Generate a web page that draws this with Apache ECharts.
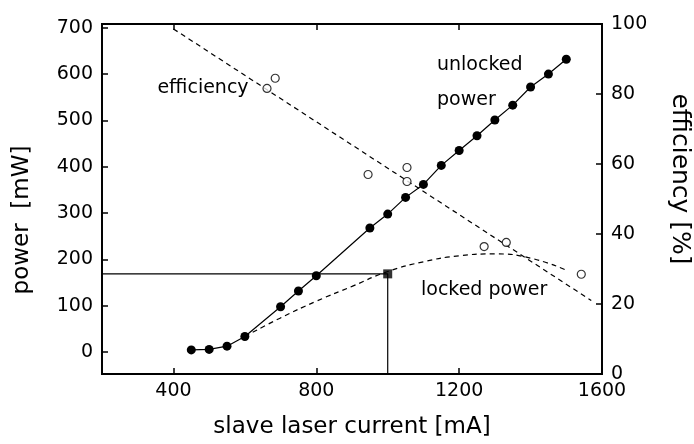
<!DOCTYPE html>
<html>
<head>
<meta charset="utf-8">
<script src="https://cdn.jsdelivr.net/npm/echarts@6/dist/echarts.min.js"></script>
<style>
    html, body { margin: 0; background: #fff; }
    #chart { width: 694px; height: 444px; }
</style>
</head>
<body>
<div id="chart"></div>
<script>
// unlocked power (filled circles)
const unlockedCurrent = [450, 500, 550, 600, 700, 750, 800, 950, 1000, 1050, 1100, 1150, 1200, 1250, 1300, 1350, 1400, 1450, 1500]
const unlockedPower = [5, 6, 13, 34, 98, 132, 165, 268, 298, 334, 362, 403, 435, 467, 501, 533, 572, 600, 632]

// efficiency (open circles) and its dashed fit
const effCurrent = [662, 685, 945, 1054, 1054, 1270, 1332, 1542]
const effValue = [81.6, 84.5, 57, 59, 55, 36.4, 37.6, 28.5]
const effFitCurrent = [400, 1570]
const effFitValue = [98.6, 21]

// locked power (dashed curve)
const lockedCurrent = [600, 700, 800, 900, 1000, 1100, 1200, 1300, 1400, 1500]
const lockedPower = [34, 74, 110, 142, 174, 195, 208, 212, 203, 177]

// locked operating point (square) with guide lines
const lockPointCurrent = 1000
const lockPointPower = 169

// axis ticks
const xTicks = [400, 800, 1200, 1600]
const xTopTicks = [400, 800, 1200]
const powerTicks = [0, 100, 200, 300, 400, 500, 600, 700]
const xMin = 200, xMax = 1600
const powerMin = -47, powerMax = 708

const font = 'DejaVu Sans'
const zip = (xs, ys) => xs.map((x, i) => [x, ys[i]])

const myChart = echarts.init(document.getElementById('chart'))

const axisLine = { show: true, onZero: false, lineStyle: { color: '#000', width: 1.8 } }
const tickStyle = { color: '#000', width: 1.5 }
const labelStyle = { color: '#000', fontSize: 19, fontFamily: font, formatter: (v) => String(v) }

const options = {
    animation: false,
    backgroundColor: '#fff',
    grid: { left: 102, right: 92, top: 24, bottom: 66, show: true, borderColor: '#000', borderWidth: 1.8 },
    xAxis: [
        {
            type: 'value', min: xMin, max: xMax, position: 'bottom',
            axisLine: axisLine,
            axisTick: { inside: true, length: 6, customValues: xTicks, lineStyle: tickStyle },
            axisLabel: Object.assign({ customValues: xTicks, margin: 8 }, labelStyle),
            splitLine: { show: false },
            name: 'slave laser current [mA]', nameLocation: 'middle', nameGap: 42,
            nameTextStyle: { color: '#000', fontSize: 23, fontFamily: font }
        },
        {
            type: 'value', min: xMin, max: xMax, position: 'top',
            axisLine: axisLine,
            axisTick: { inside: true, length: 6, customValues: xTopTicks, lineStyle: tickStyle },
            axisLabel: { show: false },
            splitLine: { show: false }
        }
    ],
    yAxis: [
        {
            type: 'value', min: powerMin, max: powerMax, position: 'left',
            axisLine: axisLine,
            axisTick: { inside: true, length: 6, customValues: powerTicks, lineStyle: tickStyle },
            axisLabel: Object.assign({ customValues: powerTicks, margin: 9 }, labelStyle),
            splitLine: { show: false }
        },
        {
            type: 'value', min: 0, max: 100, interval: 20, position: 'right',
            axisLine: axisLine,
            axisTick: { inside: true, length: 6, lineStyle: tickStyle },
            axisLabel: Object.assign({ margin: 9 }, labelStyle),
            splitLine: { show: false }
        }
    ],
    graphic: [
        { type: 'text', x: 22, y: 220, rotation: Math.PI / 2,
          style: { text: 'power  [mW]', fill: '#000', fontSize: 23, fontFamily: font, align: 'center', verticalAlign: 'middle' } },
        { type: 'text', x: 679, y: 179, rotation: -Math.PI / 2,
          style: { text: 'efficiency [%]', fill: '#000', fontSize: 25, fontFamily: font, align: 'center', verticalAlign: 'middle' } },
        { type: 'text', x: 203, y: 88,
          style: { text: 'efficiency', fill: '#000', fontSize: 19, fontFamily: font, align: 'center', verticalAlign: 'middle' } },
        { type: 'text', x: 437, y: 65,
          style: { text: 'unlocked', fill: '#000', fontSize: 19, fontFamily: font, align: 'left', verticalAlign: 'middle' } },
        { type: 'text', x: 437, y: 100,
          style: { text: 'power', fill: '#000', fontSize: 19, fontFamily: font, align: 'left', verticalAlign: 'middle' } },
        { type: 'text', x: 421, y: 290,
          style: { text: 'locked power', fill: '#000', fontSize: 19, fontFamily: font, align: 'left', verticalAlign: 'middle' } }
    ],
    series: [
        {
            // 效率拟合虚线
            type: 'line', yAxisIndex: 1, data: zip(effFitCurrent, effFitValue),
            symbol: 'none', lineStyle: { color: '#000', width: 1.2, type: [5, 4] }, z: 2
        },
        {
            // locked power 虚线
            type: 'line', yAxisIndex: 0, data: zip(lockedCurrent, lockedPower),
            smooth: true, symbol: 'none', lineStyle: { color: '#000', width: 1.2, type: [5, 4] }, z: 2
        },
        {
            // 锁定点引导线
            type: 'line', yAxisIndex: 0,
            data: [[xMin, lockPointPower], [lockPointCurrent, lockPointPower], [lockPointCurrent, powerMin]],
            symbol: 'none', lineStyle: { color: '#000', width: 1.2 }, z: 2
        },
        {
            type: 'scatter', yAxisIndex: 0, data: [[lockPointCurrent, lockPointPower]],
            symbol: 'rect', symbolSize: 9, itemStyle: { color: '#000' }, z: 4
        },
        {
            // unlocked power
            type: 'line', yAxisIndex: 0, data: zip(unlockedCurrent, unlockedPower),
            symbol: 'circle', symbolSize: 9, showAllSymbol: true,
            itemStyle: { color: '#000' }, lineStyle: { color: '#000', width: 1.2 }, z: 4
        },
        {
            // efficiency 测量点
            type: 'scatter', yAxisIndex: 1, data: zip(effCurrent, effValue),
            symbol: 'circle', symbolSize: 8,
            itemStyle: { color: '#fff', borderColor: '#000', borderWidth: 1.2 }, z: 5
        }
    ]
}

myChart.setOption(options)
</script>
</body>
</html>
